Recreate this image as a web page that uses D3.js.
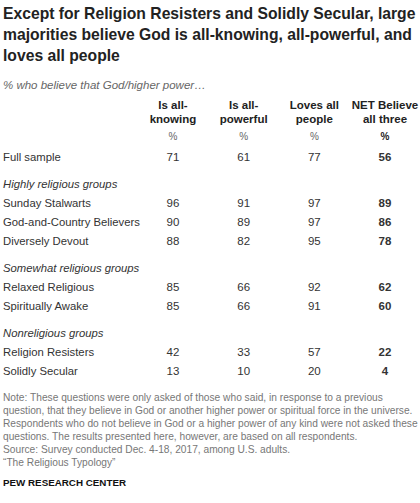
<!DOCTYPE html>
<html><head><meta charset="utf-8">
<script src="https://cdn.jsdelivr.net/npm/d3@7"></script>
<style>body{margin:0;background:#fff}</style></head>
<body><svg id="chart"></svg>
<script>
const width = 420, height = 503;
const columns = [["Is all-", "knowing"], ["Is all-", "powerful"], ["Loves all", "people"], ["NET Believe", "all three"]];
const groups = ["", "Highly religious groups", "Somewhat religious groups", "Nonreligious groups"];
const rowLabels = [["Full sample"], ["Sunday Stalwarts", "God-and-Country Believers", "Diversely Devout"], ["Relaxed  Religious", "Spiritually Awake"], ["Religion Resisters", "Solidly Secular"]];
const allKnowing = [[71], [96, 90, 88], [85, 85], [42, 13]];
const allPowerful = [[61], [91, 89, 82], [66, 66], [33, 10]];
const lovesAll = [[77], [97, 97, 95], [92, 91], [57, 20]];
const netAll = [[56], [89, 86, 78], [62, 60], [22, 4]];
const titleLines = ["Except for Religion Resisters and Solidly Secular, large", "majorities believe God is all-knowing, all-powerful, and", "loves all people"];
const noteLines = ["Note: These questions were only asked of those who said, in response to a previous",
  "question, that they believe in God or another higher power or spiritual force in the universe.",
  "Respondents who do not believe in God or a higher power of any kind were not asked these",
  "questions. The results presented here, however, are based on all respondents.",
  "Source: Survey conducted Dec. 4-18, 2017, among U.S. adults.",
  "\u201cThe Religious Typology\u201d"];

const svg = d3.select("#chart").attr("width", width).attr("height", height)
  .style("font-family", "Arial, 'Liberation Sans', sans-serif");

svg.selectAll(".title").data(titleLines).enter().append("text")
  .attr("x", 3).attr("y", (d, i) => 19 + i * 21).text(d => d)
  .attr("font-size", 15.7).attr("font-weight", "bold").attr("fill", "#222");
svg.append("text").attr("x", 3).attr("y", 89).text("% who believe that God/higher power\u2026")
  .attr("font-size", 11.5).attr("font-style", "italic").attr("fill", "#666");

const x = d3.scalePoint().domain(d3.range(4)).range([173, 385]);
columns.forEach((c, i) => {
  c.forEach((l, j) => svg.append("text").attr("x", x(i)).attr("y", 109 + j * 14).text(l)
    .attr("text-anchor", "middle").attr("font-size", 11.5).attr("font-weight", "bold").attr("fill", "#222"));
  svg.append("text").attr("x", x(i)).attr("y", 140).text("%").attr("text-anchor", "middle")
    .attr("font-size", 10).attr("fill", i === 3 ? "#222" : "#666").attr("font-weight", i === 3 ? "bold" : null);
});

const series = [allKnowing, allPowerful, lovesAll, netAll];
let y = 161;
groups.forEach((g, gi) => {
  if (g) {
    y += 8;
    svg.append("text").attr("x", 3).attr("y", y).text(g).attr("font-size", 11.3).attr("font-style", "italic").attr("fill", "#333");
    y += 19;
  }
  rowLabels[gi].forEach((r, ri) => {
    svg.append("text").attr("x", 3).attr("y", y).text(r).attr("font-size", 11.3).attr("fill", "#333");
    series.forEach((s, si) => svg.append("text").attr("x", x(si)).attr("y", y).text(s[gi][ri])
      .attr("text-anchor", "middle").attr("font-size", 11.5).attr("fill", "#333")
      .attr("font-weight", si === 3 ? "bold" : null));
    y += 19;
  });
});

svg.selectAll(".note").data(noteLines).enter().append("text")
  .attr("x", 3).attr("y", (d, i) => 401 + i * 13).text(d => d)
  .attr("font-size", 10.2).attr("fill", "#777");
svg.append("text").attr("x", 3).attr("y", 486).text("PEW RESEARCH CENTER")
  .attr("font-size", 9.8).attr("font-weight", "bold").attr("fill", "#111");
</script></body></html>
